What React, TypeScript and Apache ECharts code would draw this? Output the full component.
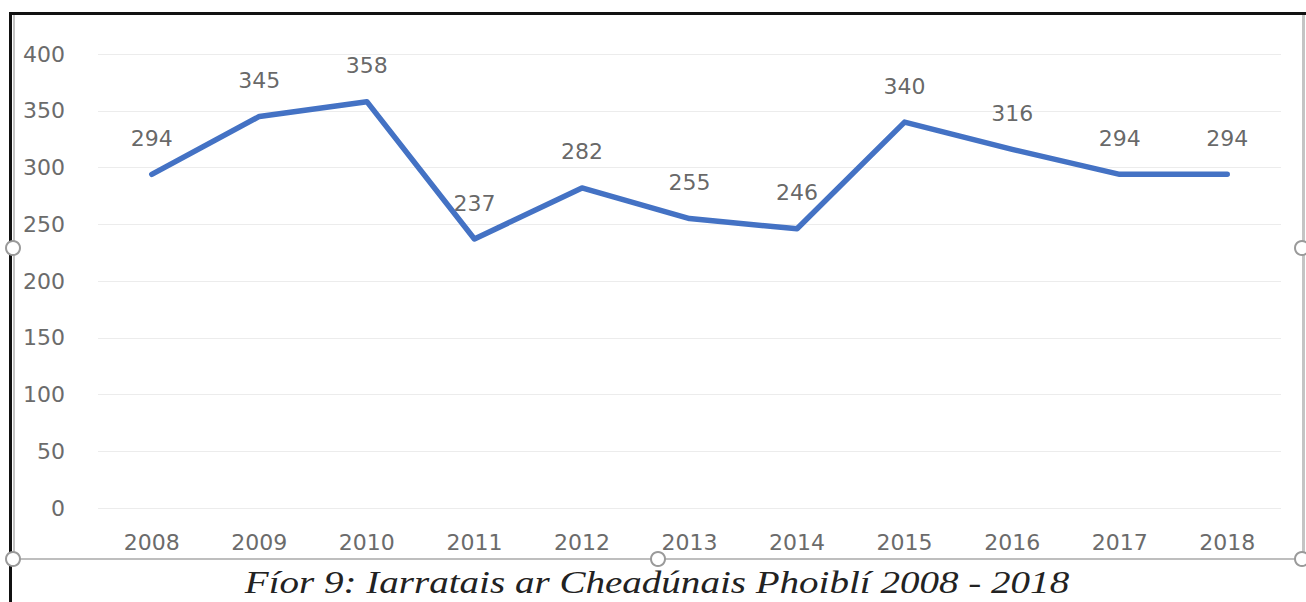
import React, { useEffect, useRef } from "react";
import * as echarts from "echarts";

const years = ["2008", "2009", "2010", "2011", "2012", "2013", "2014", "2015", "2016", "2017", "2018"];
const applications = [294, 345, 358, 237, 282, 255, 246, 340, 316, 294, 294];
const yTicks = { min: 0, max: 400, interval: 50 };
const caption = "Fíor 9: Iarratais ar Cheadúnais Phoiblí 2008 - 2018";

export default function App() {
  const ref = useRef<HTMLDivElement>(null);
  useEffect(() => {
    const chart = echarts.init(ref.current!, null, { renderer: "svg" });
    const handle = (x: number, y: number) => ({
      type: "circle",
      shape: { cx: x, cy: y, r: 7 },
      style: { fill: "#fff", stroke: "#9a9a9a", lineWidth: 2 },
      z: 20,
    });
    chart.setOption({
      animation: false,
      backgroundColor: "#ffffff",
      grid: { left: 98, right: 25, top: 54, bottom: 94 },
      xAxis: {
        type: "category",
        data: years,
        boundaryGap: true,
        axisLine: { show: false },
        axisTick: { show: false },
        axisLabel: { color: "#6b6b6b", fontSize: 22, fontFamily: "DejaVu Sans", margin: 23 },
      },
      yAxis: {
        type: "value",
        min: yTicks.min,
        max: yTicks.max,
        interval: yTicks.interval,
        axisLine: { show: false },
        axisTick: { show: false },
        axisLabel: { color: "#6b6b6b", fontSize: 22, fontFamily: "DejaVu Sans", margin: 33 },
        splitLine: { lineStyle: { color: "#ececec", width: 1 } },
      },
      series: [
        {
          type: "line",
          data: applications,
          lineStyle: { color: "#4472C4", width: 5.5, cap: "round", join: "round" },
          symbol: "none",
        },
        {
          type: "scatter",
          data: applications,
          symbolSize: 2,
          itemStyle: { color: "rgba(0,0,0,0)" },
          silent: true,
          label: {
            show: true,
            position: "top",
            distance: 24,
            color: "#404040",
            fontSize: 22,
            fontFamily: "DejaVu Sans",
            formatter: (p: any) => String(p.value),
          },
        },
      ],
      graphic: [
        { type: "rect", shape: { x: 9, y: 12, width: 1297, height: 3 }, style: { fill: "#111" }, z: 10 },
        { type: "rect", shape: { x: 9, y: 12, width: 3, height: 590 }, style: { fill: "#111" }, z: 10 },
        { type: "rect", shape: { x: 13, y: 15, width: 2, height: 544 }, style: { fill: "#c4c4c4" }, z: 10 },
        { type: "rect", shape: { x: 1302, y: 15, width: 3, height: 544 }, style: { fill: "#c4c4c4" }, z: 10 },
        { type: "line", shape: { x1: 13, y1: 559, x2: 1302, y2: 559 }, style: { stroke: "#a8a8a8", lineWidth: 1.5 }, z: 10 },
        handle(13, 248),
        handle(1302, 248),
        handle(13, 559),
        handle(658, 559),
        handle(1302, 559),
        {
          type: "text",
          x: 657,
          y: 583,
          scaleX: 1.26,
          style: {
            text: caption,
            fill: "#222",
            font: "italic 31px 'Liberation Serif', 'DejaVu Serif', serif",
            textAlign: "center",
            textVerticalAlign: "middle",
          },
          z: 10,
        },
      ],
    });
    return () => chart.dispose();
  }, []);
  return (
    <div
      ref={ref}
      style={{ position: "fixed", left: 0, top: 0, width: 1306, height: 602 }}
    />
  );
}
